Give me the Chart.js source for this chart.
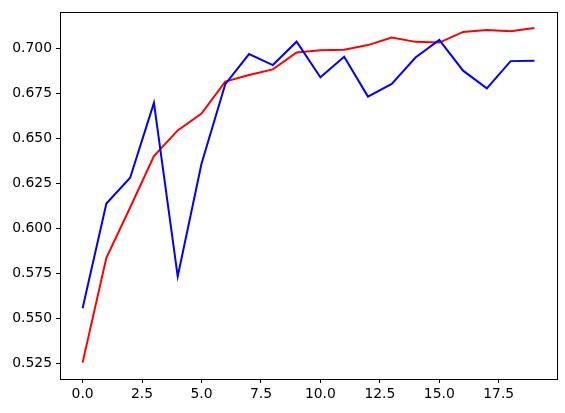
<!DOCTYPE html>
<html>
<head>
<meta charset="utf-8">
<script src="https://cdn.jsdelivr.net/npm/chart.js@4.4.1/dist/chart.umd.min.js"></script>
<style>
  html, body { margin: 0; padding: 0; background: #fff; }
  #wrap { width: 565px; height: 413px; }
</style>
</head>
<body>
<div id="wrap"><canvas id="lineChart" width="565" height="413"></canvas></div>
<script>
// epochs 0..19
const epochs = [0, 1, 2, 3, 4, 5, 6, 7, 8, 9, 10, 11, 12, 13, 14, 15, 16, 17, 18, 19];
const redValues = [0.5253, 0.5835, 0.6115, 0.6400, 0.6543, 0.6637, 0.6814, 0.6851, 0.6882, 0.6976,
                   0.6989, 0.6991, 0.7017, 0.7059, 0.7035, 0.7031, 0.7090, 0.7101, 0.7094, 0.7112];
const blueValues = [0.5555, 0.6137, 0.6280, 0.6696, 0.5732, 0.6358, 0.6800, 0.6967, 0.6906, 0.7036,
                    0.6838, 0.6952, 0.6731, 0.6801, 0.6948, 0.7046, 0.6875, 0.6777, 0.6928, 0.6930];
const xTicks = [0, 2.5, 5, 7.5, 10, 12.5, 15, 17.5];
const yTicks = [0.525, 0.55, 0.575, 0.6, 0.625, 0.65, 0.675, 0.7];

const toPoints = vals => vals.map((v, i) => ({ x: epochs[i], y: v }));

// box around the plot area like matplotlib axes
const frame = {
    id: 'frame',
    afterDatasetsDraw(chart) {
        const a = chart.chartArea;
        const ctx = chart.ctx;
        ctx.save();
        ctx.strokeStyle = '#000';
        ctx.lineWidth = 1;
        ctx.strokeRect(Math.round(a.left) + 0.5, Math.round(a.top) + 0.5,
                       Math.round(a.right - a.left), Math.round(a.bottom - a.top));
        ctx.restore();
    }
};

const ctx = document.getElementById('lineChart').getContext('2d');
new Chart(ctx, {
    type: 'line',
    data: {
        datasets: [{
            data: toPoints(blueValues),
            borderColor: 'blue',
            borderWidth: 2,
            pointRadius: 0,
            tension: 0
        }, {
            data: toPoints(redValues),
            borderColor: 'red',
            borderWidth: 2,
            pointRadius: 0,
            tension: 0
        }]
    },
    options: {
        responsive: false,
        animation: false,
        layout: { padding: { top: 10, right: 8, left: 0, bottom: 0 } },
        plugins: {
            legend: { display: false },
            tooltip: { enabled: false }
        },
        scales: {
            x: {
                type: 'linear',
                min: -0.95,
                max: 19.95,
                afterBuildTicks: axis => { axis.ticks = xTicks.map(v => ({ value: v })); },
                afterFit: axis => { axis.height = 34; },
                grid: { drawOnChartArea: false, drawTicks: true, tickLength: 4, tickColor: '#000' },
                border: { display: false },
                ticks: {
                    color: '#000',
                    padding: 3,
                    maxRotation: 0,
                    font: { family: 'DejaVu Sans', size: 13.9 },
                    callback: v => v.toFixed(1)
                }
            },
            y: {
                type: 'linear',
                min: 0.5162,
                max: 0.7199,
                afterBuildTicks: axis => { axis.ticks = yTicks.map(v => ({ value: v })); },
                afterFit: axis => { axis.width = 60; },
                grid: { drawOnChartArea: false, drawTicks: true, tickLength: 4, tickColor: '#000' },
                border: { display: false },
                ticks: {
                    color: '#000',
                    padding: 4,
                    font: { family: 'DejaVu Sans', size: 13.9 },
                    callback: v => v.toFixed(3)
                }
            }
        }
    },
    plugins: [frame]
});
</script>
</body>
</html>
